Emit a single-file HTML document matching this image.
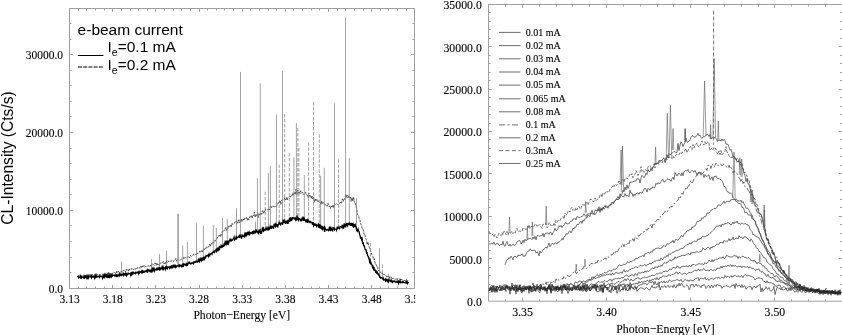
<!DOCTYPE html>
<html><head><meta charset="utf-8"><style>
html,body{margin:0;padding:0;background:#fff;width:842px;height:335px;overflow:hidden}
svg{display:block;will-change:transform}
</style></head><body>
<svg width="842" height="335" viewBox="0 0 842 335">
<rect width="842" height="335" fill="#fff"/>
<defs><clipPath id="cl"><rect x="0" y="0" width="415.2" height="335"/></clipPath></defs>
<path d="M69.5 8.5 H414.5 V288.5 H69.5 Z" fill="none" stroke="#a0a0a0" stroke-width="1"/>
<path d="M488.5 4.5 H842.5 V301.2 H488.5 Z" fill="none" stroke="#a0a0a0" stroke-width="1"/>
<path d="M69.5 288.5L69.5 285M69.5 8.5L69.5 12M78.5 288.5L78.5 286.5M78.5 8.5L78.5 10.5M86.5 288.5L86.5 286.5M86.5 8.5L86.5 10.5M95.5 288.5L95.5 286.5M95.5 8.5L95.5 10.5M104.5 288.5L104.5 286.5M104.5 8.5L104.5 10.5M112.5 288.5L112.5 285M112.5 8.5L112.5 12M121.5 288.5L121.5 286.5M121.5 8.5L121.5 10.5M130.5 288.5L130.5 286.5M130.5 8.5L130.5 10.5M138.5 288.5L138.5 286.5M138.5 8.5L138.5 10.5M147.5 288.5L147.5 286.5M147.5 8.5L147.5 10.5M155.5 288.5L155.5 285M155.5 8.5L155.5 12M164.5 288.5L164.5 286.5M164.5 8.5L164.5 10.5M173.5 288.5L173.5 286.5M173.5 8.5L173.5 10.5M181.5 288.5L181.5 286.5M181.5 8.5L181.5 10.5M190.5 288.5L190.5 286.5M190.5 8.5L190.5 10.5M199.5 288.5L199.5 285M199.5 8.5L199.5 12M207.5 288.5L207.5 286.5M207.5 8.5L207.5 10.5M216.5 288.5L216.5 286.5M216.5 8.5L216.5 10.5M224.5 288.5L224.5 286.5M224.5 8.5L224.5 10.5M233.5 288.5L233.5 286.5M233.5 8.5L233.5 10.5M242.5 288.5L242.5 285M242.5 8.5L242.5 12M250.5 288.5L250.5 286.5M250.5 8.5L250.5 10.5M259.5 288.5L259.5 286.5M259.5 8.5L259.5 10.5M268.5 288.5L268.5 286.5M268.5 8.5L268.5 10.5M276.5 288.5L276.5 286.5M276.5 8.5L276.5 10.5M285.5 288.5L285.5 285M285.5 8.5L285.5 12M293.5 288.5L293.5 286.5M293.5 8.5L293.5 10.5M302.5 288.5L302.5 286.5M302.5 8.5L302.5 10.5M311.5 288.5L311.5 286.5M311.5 8.5L311.5 10.5M319.5 288.5L319.5 286.5M319.5 8.5L319.5 10.5M328.5 288.5L328.5 285M328.5 8.5L328.5 12M337.5 288.5L337.5 286.5M337.5 8.5L337.5 10.5M345.5 288.5L345.5 286.5M345.5 8.5L345.5 10.5M354.5 288.5L354.5 286.5M354.5 8.5L354.5 10.5M363.5 288.5L363.5 286.5M363.5 8.5L363.5 10.5M371.5 288.5L371.5 285M371.5 8.5L371.5 12M380.5 288.5L380.5 286.5M380.5 8.5L380.5 10.5M388.5 288.5L388.5 286.5M388.5 8.5L388.5 10.5M397.5 288.5L397.5 286.5M397.5 8.5L397.5 10.5M406.5 288.5L406.5 286.5M406.5 8.5L406.5 10.5M414.5 288.5L414.5 285M414.5 8.5L414.5 12M69.5 288.5L73 288.5M414.5 288.5L411 288.5M69.5 272.5L71.5 272.5M414.5 272.5L412.5 272.5M69.5 257.5L71.5 257.5M414.5 257.5L412.5 257.5M69.5 241.5L71.5 241.5M414.5 241.5L412.5 241.5M69.5 225.5L71.5 225.5M414.5 225.5L412.5 225.5M69.5 210.5L73 210.5M414.5 210.5L411 210.5M69.5 194.5L71.5 194.5M414.5 194.5L412.5 194.5M69.5 179.5L71.5 179.5M414.5 179.5L412.5 179.5M69.5 163.5L71.5 163.5M414.5 163.5L412.5 163.5M69.5 148.5L71.5 148.5M414.5 148.5L412.5 148.5M69.5 132.5L73 132.5M414.5 132.5L411 132.5M69.5 116.5L71.5 116.5M414.5 116.5L412.5 116.5M69.5 101.5L71.5 101.5M414.5 101.5L412.5 101.5M69.5 85.5L71.5 85.5M414.5 85.5L412.5 85.5M69.5 70.5L71.5 70.5M414.5 70.5L412.5 70.5M69.5 54.5L73 54.5M414.5 54.5L411 54.5M69.5 39.5L71.5 39.5M414.5 39.5L412.5 39.5M69.5 23.5L71.5 23.5M414.5 23.5L412.5 23.5M505.5 301.2L505.5 299.2M505.5 4.5L505.5 6.5M522.5 301.2L522.5 297.7M522.5 4.5L522.5 8M539.5 301.2L539.5 299.2M539.5 4.5L539.5 6.5M556.5 301.2L556.5 299.2M556.5 4.5L556.5 6.5M572.5 301.2L572.5 299.2M572.5 4.5L572.5 6.5M589.5 301.2L589.5 299.2M589.5 4.5L589.5 6.5M606.5 301.2L606.5 297.7M606.5 4.5L606.5 8M623.5 301.2L623.5 299.2M623.5 4.5L623.5 6.5M640.5 301.2L640.5 299.2M640.5 4.5L640.5 6.5M657.5 301.2L657.5 299.2M657.5 4.5L657.5 6.5M673.5 301.2L673.5 299.2M673.5 4.5L673.5 6.5M690.5 301.2L690.5 297.7M690.5 4.5L690.5 8M707.5 301.2L707.5 299.2M707.5 4.5L707.5 6.5M724.5 301.2L724.5 299.2M724.5 4.5L724.5 6.5M741.5 301.2L741.5 299.2M741.5 4.5L741.5 6.5M758.5 301.2L758.5 299.2M758.5 4.5L758.5 6.5M774.5 301.2L774.5 297.7M774.5 4.5L774.5 8M791.5 301.2L791.5 299.2M791.5 4.5L791.5 6.5M808.5 301.2L808.5 299.2M808.5 4.5L808.5 6.5M825.5 301.2L825.5 299.2M825.5 4.5L825.5 6.5M842.5 301.2L842.5 299.2M842.5 4.5L842.5 6.5M488.5 292.5L490.5 292.5M842 292.5L840 292.5M488.5 284.5L490.5 284.5M842 284.5L840 284.5M488.5 275.5L490.5 275.5M842 275.5L840 275.5M488.5 267.5L490.5 267.5M842 267.5L840 267.5M488.5 258.5L492 258.5M842 258.5L838.5 258.5M488.5 250.5L490.5 250.5M842 250.5L840 250.5M488.5 241.5L490.5 241.5M842 241.5L840 241.5M488.5 233.5L490.5 233.5M842 233.5L840 233.5M488.5 224.5L490.5 224.5M842 224.5L840 224.5M488.5 216.5L492 216.5M842 216.5L838.5 216.5M488.5 207.5L490.5 207.5M842 207.5L840 207.5M488.5 199.5L490.5 199.5M842 199.5L840 199.5M488.5 190.5L490.5 190.5M842 190.5L840 190.5M488.5 182.5L490.5 182.5M842 182.5L840 182.5M488.5 173.5L492 173.5M842 173.5L838.5 173.5M488.5 165.5L490.5 165.5M842 165.5L840 165.5M488.5 156.5L490.5 156.5M842 156.5L840 156.5M488.5 148.5L490.5 148.5M842 148.5L840 148.5M488.5 139.5L490.5 139.5M842 139.5L840 139.5M488.5 131.5L492 131.5M842 131.5L838.5 131.5M488.5 123.5L490.5 123.5M842 123.5L840 123.5M488.5 114.5L490.5 114.5M842 114.5L840 114.5M488.5 106.5L490.5 106.5M842 106.5L840 106.5M488.5 97.5L490.5 97.5M842 97.5L840 97.5M488.5 89.5L492 89.5M842 89.5L838.5 89.5M488.5 80.5L490.5 80.5M842 80.5L840 80.5M488.5 72.5L490.5 72.5M842 72.5L840 72.5M488.5 63.5L490.5 63.5M842 63.5L840 63.5M488.5 55.5L490.5 55.5M842 55.5L840 55.5M488.5 46.5L492 46.5M842 46.5L838.5 46.5M488.5 38.5L490.5 38.5M842 38.5L840 38.5M488.5 29.5L490.5 29.5M842 29.5L840 29.5M488.5 21.5L490.5 21.5M842 21.5L840 21.5M488.5 12.5L490.5 12.5M842 12.5L840 12.5M488.5 4.5L492 4.5M842 4.5L838.5 4.5" stroke="#a0a0a0" stroke-width="1" fill="none"/>
<path d="M77.6 276.6 78.4 275.8 79.2 275.1 80 274.6 80.8 275.9 81.6 275.7 82.4 275.8 83.2 275.3 84 276.4 84.8 275 85.6 276.6 86.4 275.9 87.2 276.5 88 274.6 88.8 276.2 89.6 274.4 90.4 275.8 91.2 273.6 92 274.8 92.8 274.7 93.6 276 94.4 275.3 95.2 275.7 96 274.6 96.8 275 97.6 274.6 98.4 275.7 99.2 274.4 100 274.7 100.8 274.7 101.6 275.3 102.4 274.7 103.2 274.5 104 274.2 104.8 274.5 105.6 274.2 106.4 274.7 107.2 272.8 108 275.2 108.8 272 109.6 274.1 110.4 273.2 111.2 273.5 112 273.6 112.8 273.3 113.6 272.1 114.4 272.5 115.2 272.8 116 274 116.8 271 117.6 272.4 118.4 271.3 119.2 273.6 120 271.3 120.8 271.9 121.6 271.4 122.4 272.2 123.2 270.3 124 270.4 124.8 270.1 125.6 272.3 126.4 269.4 127.2 270.6 128 269.4 128.8 271.5 129.6 269.1 130.4 269.7 131.2 268.5 132 269.8 132.8 268.7 133.6 269.6 134.4 268.5 135.2 269.5 136 268.1 136.8 269.1 137.6 267.5 138.4 268.5 139.2 267.7 140 268.3 140.8 266 141.6 268 142.4 266 143.2 267.2 144 265.3 144.8 267.4 145.6 266.4 146.4 266.5 147.2 265.9 148 266.2 148.8 265.7 149.6 266.5 150.4 265.2 151.2 266.8 152 263.6 152.8 265 153.6 264.7 154.4 265.3 155.2 262.9 156 265.4 156.8 262.8 157.6 265 158.4 263.8 159.2 265.3 160 262.8 160.8 263.4 161.6 262.8 162.4 262.7 163.2 261.5 164 264.1 164.8 262.5 165.6 263.9 166.4 260.9 167.2 262.6 168 260.7 168.8 261.9 169.6 261.1 170.4 261.3 171.2 260.8 172 261.3 172.8 260.5 173.6 261.5 174.4 259.8 175.2 259.8 176 258.3 176.8 261.3 177.6 259.2 178.4 260.1 179.2 259.9 180 260.5 180.8 259.5 181.6 259 182.4 259.1 183.2 258.9 184 256.8 184.8 258.3 185.6 257.2 186.4 258 187.2 257.4 188 257 188.8 256.3 189.6 258 190.4 255.3 191.2 256.4 192 256 192.8 255.8 193.6 253.9 194.4 254.8 195.2 254.8 196 253.9 196.8 252.6 197.6 253.9 198.4 252.8 199.2 252.3 200 250.9 200.8 252.4 201.6 250.7 202.4 252.1 203.2 249.4 204 250.1 204.8 248.4 205.6 249.1 206.4 246.8 207.2 247.5 208 246.9 208.8 246.8 209.6 244.3 210.4 246.6 211.2 243.2 212 244 212.8 242.2 213.6 243.2 214.4 240.3 215.2 241 216 239.8 216.8 239.1 217.6 236.9 218.4 236.6 219.2 235.1 220 236.9 220.8 233.9 221.6 235.4 222.4 231 223.2 231.6 224 230.3 224.8 230.2 225.6 227.6 226.4 230.5 227.2 227.5 228 229 228.8 225.8 229.6 226.8 230.4 225.5 231.2 227.2 232 223.1 232.8 224.5 233.6 223.6 234.4 223.3 235.2 221.4 236 222.5 236.8 220.7 237.6 223.2 238.4 219.8 239.2 222.9 240 219.8 240.8 222.1 241.6 218.9 242.4 221.2 243.2 218.9 244 220.5 244.8 218 245.6 218.6 246.4 217.4 247.2 220.3 248 218 248.8 220.1 249.6 216.7 250.4 217.7 251.2 215.7 252 218 252.8 215 253.6 215.8 254.4 212.2 255.2 217.3 256 214.8 256.8 216.1 257.6 212.5 258.4 217.5 259.2 213.6 260 215 260.8 212.8 261.6 214.4 262.4 210.6 263.2 213.3 264 210.7 264.8 212.4 265.6 208.8 266.4 209.4 267.2 209.7 268 210 268.8 208.7 269.6 210.1 270.4 206.4 271.2 208.1 272 206.4 272.8 207.5 273.6 206.2 274.4 206.7 275.2 205.8 276 206.7 276.8 205.6 277.6 204.8 278.4 202 279.2 202.9 280 200.4 280.8 204.5 281.6 200.4 282.4 200.5 283.2 199.9 284 199.8 284.8 197.6 285.6 199.8 286.4 197.5 287.2 200.3 288 197.4 288.8 197 289.6 196.7 290.4 197 291.2 195.6 292 195.8 292.8 192.8 293.6 195.1 294.4 192.7 295.2 194.4 296 189.2 296.8 194.7 297.6 190.2 298.4 193.4 299.2 191.5 300 193.6 300.8 190.7 301.6 193.2 302.4 192.2 303.2 194.4 304 194.2 304.8 194.3 305.6 192.2 306.4 194.8 307.2 195.2 308 197.6 308.8 193 309.6 196.3 310.4 195.1 311.2 198.7 312 196.1 312.8 199.1 313.6 197 314.4 202.4 315.2 198.5 316 200.7 316.8 199 317.6 202.1 318.4 201 319.2 201.4 320 201.4 320.8 204.8 321.6 200.8 322.4 203.9 323.2 202.4 324 204 324.8 203.8 325.6 205.1 326.4 204.7 327.2 206.3 328 203.4 328.8 206.5 329.6 206 330.4 208.4 331.2 205.7 332 207.1 332.8 205 333.6 207.9 334.4 203.5 335.2 204.5 336 203.5 336.8 203.9 337.6 204.5 338.4 204.6 339.2 203.5 340 203 340.8 202 341.6 203.3 342.4 198.8 343.2 201.2 344 198.6 344.8 199.3 345.6 194.1 346.4 197.7 347.2 195.3 348 197.8 348.8 195.5 349.6 198.6 350.4 197.2 351.2 201.4 352 197.4 352.8 201.2 353.6 197.1 354.4 202.6 355.2 202.5 356 206.5 356.8 209.2 357.6 214.6 358.4 215.2 359.2 218.8 360 220.4 360.8 224 361.6 225.4 362.4 229.3 363.2 229.4 364 234.5 364.8 234.2 365.6 238.1 366.4 239.6 367.2 244.7 368 242 368.8 245.8 369.6 248.4 370.4 250.4 371.2 252.7 372 254.9 372.8 256.1 373.6 259.5 374.4 258.8 375.2 263.9 376 264.2 376.8 266.6 377.6 266.7 378.4 270.9 379.2 270 380 271.7 380.8 272.2 381.6 274.1 382.4 273.3 383.2 275.3 384 274 384.8 274.9 385.6 274.6 386.4 276.6 387.2 275.7 388 277.2 388.8 275.7 389.6 278.6 390.4 277 391.2 277.5 392 277.1 392.8 278.9 393.6 278.3 394.4 279.1 395.2 278.7 396 279.6 396.8 278.1 397.6 279.6 398.4 278.9 399.2 279.3 400 278.7 400.8 280.2 401.6 279 402.4 280.4 403.2 280.5 404 280.4 404.8 280.5 405.6 280.7 406.4 279.4 407.2 281 408 280.4 408.8 280.7" fill="none" stroke="#2a2a2a" stroke-width="0.8" stroke-dasharray="2.5 1"/>
<path d="M121.5 261.4V274.7M151.4 259V270.3M159.5 254.2V268.7M166.5 250.7V267.4M182.7 245.4V265.1M187.4 242V264.1M196.5 223.3V261.5M203.4 225.7V258.4M213.3 225V252.4M216.3 228V250.4M222.5 217.9V245.9M227.3 219.1V242.6M236.5 208.4V237.8M240.5 71.9V236.5M255.5 221.5V232.1M257.4 178.2V231.9M260.3 83.3V231.4M268.4 173V228.4M270.4 165.7V227.7M276.5 114.5V225.2M282.5 70.8V222.6M293.9 157.3V218.6M296.4 123V218.4M304.3 175V220M320.6 175.8V227.1M324.3 167.8V228.4M334.5 103.4V229.5M345.6 17.5V224.6M349.3 157.9V224M356.5 198.2V228.4M379.5 248.3V276.2M388.4 273.8V280.5" stroke="#848484" stroke-width="0.75" fill="none"/>
<path d="M265.2 191.8V229.8M279.2 164.6V224.1M284.7 113.9V221.7M289.3 153V220M297.8 128V218.5M298.9 148V218.7M308.6 142.3V221.5M313.5 102V223.7M319.3 134.3V226.5M338.5 159.4V228M370.5 242.9V262.1M382.4 264.4V278.6" stroke="#848484" stroke-width="0.75" stroke-dasharray="3.5 1.5" fill="none"/>
<path d="M178.1 213.7V265.9" stroke="#a0a0a0" stroke-width="1.6" fill="none"/>
<path d="M77.6 277.2 78.1 276.4 78.6 278 79.1 277.4 79.6 277.4 80.1 276.2 80.6 278.7 81.1 276.9 81.6 277.9 82.1 276.8 82.6 277 83.1 277.4 83.6 278 84.1 276.3 84.6 277.7 85.1 276.4 85.6 277.2 86.1 276.1 86.6 277.8 87.1 276.3 87.6 277.9 88.1 276.3 88.6 277.9 89.1 276.3 89.6 276.9 90.1 276.9 90.6 276.7 91.1 276 91.6 277.7 92.1 276.3 92.6 276.9 93.1 276.3 93.6 276.9 94.1 276.7 94.6 278.1 95.1 275.5 95.6 276.9 96.1 275.1 96.6 276.9 97.1 276.4 97.6 276.9 98.1 276.7 98.6 276.6 99.1 276.1 99.6 277.3 100.1 276 100.6 276.5 101.1 276.4 101.6 276.4 102.1 276.7 102.6 278.1 103.1 275.9 103.6 276.8 104.1 275.1 104.6 276.7 105.1 274.6 105.6 276.1 106.1 275.2 106.6 277.5 107.1 275.6 107.6 276.8 108.1 274.8 108.6 277.9 109.1 275.3 109.6 276.7 110.1 275.3 110.6 277.7 111.1 275.5 111.6 276.6 112.1 274.7 112.6 275.8 113.1 275.3 113.6 275.4 114.1 275 114.6 275.9 115.1 275.5 115.6 276 116.1 274 116.6 277.2 117.1 274.6 117.6 276.9 118.1 275.1 118.6 275.4 119.1 274.4 119.6 275.6 120.1 273.9 120.6 275 121.1 274.4 121.6 275.5 122.1 274.7 122.6 274.9 123.1 273.4 123.6 275.2 124.1 274 124.6 274.6 125.1 273.7 125.6 275.5 126.1 272.9 126.6 275.3 127.1 274.2 127.6 274.5 128.1 273.2 128.6 273.9 129.1 273.5 129.6 273.6 130.1 273.7 130.6 275 131.1 272 131.6 274.2 132.1 272.9 132.6 273.9 133.1 272.3 133.6 273.5 134.1 273 134.6 273.3 135.1 272.7 135.6 273.5 136.1 272.3 136.6 272.9 137.1 272.8 137.6 272.2 138.1 272.1 138.6 273.6 139.1 271.7 139.6 272.8 140.1 272 140.6 272 141.1 271.5 141.6 272.5 142.1 270 142.6 272.3 143.1 271.3 143.6 272.3 144.1 271.9 144.6 272 145.1 270.9 145.6 271.5 146.1 270.9 146.6 271.5 147.1 270.1 147.6 272.5 148.1 270 148.6 269.8 149.1 270 149.6 271.1 150.1 270.5 150.6 272.3 151.1 269.5 151.6 271.1 152.1 268.9 152.6 270.6 153.1 268.6 153.6 270.1 154.1 268.8 154.6 270.9 155.1 269.8 155.6 269.4 156.1 269 156.6 269.6 157.1 268.2 157.6 269.6 158.1 269.2 158.6 269.4 159.1 267 159.6 270.6 160.1 267.5 160.6 269 161.1 268.2 161.6 268.6 162.1 266.9 162.6 268.7 163.1 267.1 163.6 269.1 164.1 268.1 164.6 268.5 165.1 267.6 165.6 269.2 166.1 267 166.6 268.7 167.1 266.4 167.6 268.4 168.1 267.3 168.6 266.8 169.1 266.8 169.6 268.2 170.1 266.9 170.6 267.7 171.1 266.5 171.6 267.4 172.1 265.3 172.6 268.3 173.1 264.9 173.6 267.4 174.1 265.7 174.6 266.8 175.1 265.6 175.6 267.1 176.1 266 176.6 266.8 177.1 265.9 177.6 265.8 178.1 265.7 178.6 266.3 179.1 264.5 179.6 267 180.1 265.2 180.6 265.6 181.1 265.6 181.6 266.5 182.1 265.1 182.6 266 183.1 264.4 183.6 265.7 184.1 264 184.6 264.8 185.1 264.7 185.6 265.1 186.1 263.9 186.6 265.3 187.1 264.1 187.6 265 188.1 263.5 188.6 262.9 189.1 262.1 189.6 263.3 190.1 263.8 190.6 264 191.1 262.8 191.6 263.6 192.1 263.2 192.6 263 193.1 262.4 193.6 263.5 194.1 261.9 194.6 261.9 195.1 262.5 195.6 262.3 196.1 261.1 196.6 261.8 197.1 262.1 197.6 262 198.1 260.2 198.6 262.1 199.1 259.9 199.6 261.3 200.1 259.3 200.6 261.1 201.1 258.9 201.6 260.4 202.1 258.8 202.6 259.8 203.1 258.1 203.6 259.1 204.1 256.8 204.6 258.8 205.1 257.2 205.6 257.6 206.1 255.6 206.6 256 207.1 255.7 207.6 255.9 208.1 255 208.6 256.3 209.1 254.4 209.6 256.3 210.1 254.3 210.6 253.9 211.1 253.8 211.6 253.3 212.1 254.1 212.6 252.3 213.1 251.8 213.6 252.2 214.1 251.3 214.6 252.2 215.1 251.1 215.6 250.4 216.1 249.6 216.6 251.2 217.1 249.4 217.6 250.1 218.1 247.4 218.6 249.4 219.1 247.6 219.6 248.8 220.1 245.8 220.6 247.9 221.1 245.7 221.6 247.1 222.1 246.1 222.6 246.8 223.1 244.9 223.6 246.9 224.1 244.3 224.6 244.9 225.1 242.3 225.6 243.7 226.1 242 226.6 243.8 227.1 242 227.6 243.5 228.1 241.8 228.6 243.3 229.1 241.1 229.6 240.8 230.1 239.4 230.6 240.6 231.1 239.7 231.6 240.8 232.1 240.2 232.6 240.2 233.1 238.7 233.6 238.5 234.1 237.2 234.6 239.9 235.1 239 235.6 238.8 236.1 237.1 236.6 238.7 237.1 237.7 237.6 237.7 238.1 236.8 238.6 237 239.1 235.9 239.6 237.8 240.1 234.6 240.6 236.3 241.1 236.9 241.6 238.8 242.1 234.4 242.6 236.2 243.1 236.4 243.6 236.5 244.1 235.3 244.6 237.5 245.1 232.4 245.6 235.1 246.1 233.9 246.6 235.1 247.1 232.1 247.6 235.1 248.1 232.7 248.6 233.9 249.1 232.5 249.6 235.5 250.1 232.6 250.6 232.9 251.1 233.2 251.6 232.9 252.1 232.2 252.6 233.2 253.1 231 253.6 234.1 254.1 231.1 254.6 231.5 255.1 232.8 255.6 231.9 256.1 229.5 256.6 231.8 257.1 231.4 257.6 232.3 258.1 231.7 258.6 234.3 259.1 229.5 259.6 231.3 260.1 230.4 260.6 233.7 261.1 232.2 261.6 232.7 262.1 229.6 262.6 230.9 263.1 226.8 263.6 231.1 264.1 230.6 264.6 229.5 265.1 229.1 265.6 230.6 266.1 227.7 266.6 229.1 267.1 229.7 267.6 229.6 268.1 226.7 268.6 230.3 269.1 228.1 269.6 228.7 270.1 226.6 270.6 227.7 271.1 226.8 271.6 228.8 272.1 226.7 272.6 226.3 273.1 226.9 273.6 228.7 274.1 223.8 274.6 226.5 275.1 224.5 275.6 226.3 276.1 224.3 276.6 225.4 277.1 224 277.6 227.5 278.1 225 278.6 224.3 279.1 222.5 279.6 224 280.1 223.9 280.6 224.7 281.1 222.8 281.6 223.1 282.1 223 282.6 224.7 283.1 220.8 283.6 221.8 284.1 220.4 284.6 223.2 285.1 220.7 285.6 223.9 286.1 221.3 286.6 223 287.1 220.5 287.6 223.8 288.1 219.8 288.6 221.8 289.1 220.1 289.6 222 290.1 217.2 290.6 221.3 291.1 218.5 291.6 220.9 292.1 217.2 292.6 219.7 293.1 217.8 293.6 217.8 294.1 218.2 294.6 218.8 295.1 218 295.6 219.6 296.1 217.6 296.6 220.6 297.1 215.6 297.6 219.8 298.1 217.2 298.6 219.9 299.1 218.5 299.6 218.7 300.1 219.2 300.6 220.6 301.1 219.8 301.6 220.4 302.1 217.5 302.6 220.5 303.1 216.5 303.6 221 304.1 217.3 304.6 220.2 305.1 220.2 305.6 221.2 306.1 219.3 306.6 222.2 307.1 220.6 307.6 222.8 308.1 220.6 308.6 221.8 309.1 221.4 309.6 222.2 310.1 221.3 310.6 221.9 311.1 222.7 311.6 222.5 312.1 222.5 312.6 224.9 313.1 222 313.6 225.6 314.1 224.5 314.6 224.9 315.1 223.3 315.6 225.8 316.1 223.8 316.6 226.5 317.1 225.9 317.6 225.7 318.1 224.5 318.6 227.6 319.1 225.2 319.6 226.7 320.1 224.3 320.6 227.6 321.1 226.8 321.6 228.2 322.1 225.8 322.6 228.9 323.1 227.6 323.6 228.6 324.1 227.6 324.6 231.9 325.1 228.1 325.6 229.3 326.1 229.5 326.6 230.1 327.1 229.5 327.6 229.9 328.1 229.7 328.6 230.5 329.1 228.6 329.6 230.5 330.1 226.7 330.6 229.6 331.1 228.4 331.6 230.5 332.1 228.4 332.6 231.3 333.1 227.1 333.6 229.3 334.1 227.5 334.6 229.9 335.1 229.2 335.6 229.1 336.1 229.1 336.6 230.3 337.1 227.7 337.6 228.3 338.1 227.1 338.6 228.2 339.1 228 339.6 228.6 340.1 226.4 340.6 226.7 341.1 226.6 341.6 227.3 342.1 225.8 342.6 227.3 343.1 225.2 343.6 228.7 344.1 223.5 344.6 225.4 345.1 224 345.6 227.5 346.1 224.3 346.6 224.8 347.1 222.9 347.6 225.5 348.1 224 348.6 224.3 349.1 223.2 349.6 225.4 350.1 223 350.6 225.9 351.1 222.9 351.6 226 352.1 223 352.6 225.3 353.1 224.2 353.6 227.7 354.1 224.1 354.6 225.6 355.1 224.6 355.6 226.9 356.1 226.9 356.6 230.3 357.1 229.7 357.6 230.9 358.1 229.2 358.6 231.2 359.1 231.6 359.6 234.4 360.1 235.6 360.6 238.7 361.1 236.9 361.6 239.6 362.1 238.7 362.6 243.9 363.1 242 363.6 245.6 364.1 245.6 364.6 247.4 365.1 249.1 365.6 249.8 366.1 249.9 366.6 253.1 367.1 252.8 367.6 255.7 368.1 256.1 368.6 258.1 369.1 258.1 369.6 261.8 370.1 260.7 370.6 264.4 371.1 263.1 371.6 264.5 372.1 265.1 372.6 267.4 373.1 266.7 373.6 269.2 374.1 268.2 374.6 270 375.1 270 375.6 271.8 376.1 271.2 376.6 273.5 377.1 271.4 377.6 273.8 378.1 273.6 378.6 275 379.1 274.8 379.6 277 380.1 276.6 380.6 278.1 381.1 277.6 381.6 277.9 382.1 277.8 382.6 278.7 383.1 278 383.6 280 384.1 279.9 384.6 279.8 385.1 279.2 385.6 280.8 386.1 279.5 386.6 281.3 387.1 279.2 387.6 281.2 388.1 280.3 388.6 281.8 389.1 279.9 389.6 280.7 390.1 280.7 390.6 281.4 391.1 279.8 391.6 281.6 392.1 281.2 392.6 282.2 393.1 281.2 393.6 281.5 394.1 280.8 394.6 281.6 395.1 281.3 395.6 282.2 396.1 282 396.6 282.2 397.1 281.2 397.6 282.2 398.1 281.5 398.6 283.3 399.1 281.3 399.6 281.9 400.1 280.7 400.6 282.8 401.1 282.5 401.6 282.5 402.1 281.8 402.6 282.4 403.1 281.7 403.6 282.5 404.1 282.6 404.6 282.6 405.1 282.9 405.6 282.7 406.1 281.6 406.6 282.8 407.1 282 407.6 283.5 408.1 282.5 408.6 283.1" fill="none" stroke="#000" stroke-width="1.3"/>
<path d="M575 290.6 576 289.4 577 286.9 578 287.6 579 289.7 580 289.2 581 287.2 582 289.2 583 284.1 584 288.7 585 290.5 586 290.4 587 287.7 588 289.1 589 289 590 288.3 591 286.9 592 285.6 593 287.3 594 286 595 284.2 596 290.8 597 285.4 598 286.9 599 286.9 600 284.7 601 288.8 602 284.7 603 291.6 604 285.2 605 286.4 606 287.7 607 287.7 608 288 609 290.2 610 290.8 611 292.9 612 286.1 613 290.7 614 290 615 288 616 286 617 293.5 618 291.1 619 285.1 620 291.7 621 289.6 622 289.2 623 290.3 624 287.5 625 288.4 626 290.6 627 286.3 628 285.9 629 285.2 630 290.2 631 286.5 632 287.9 633 287.6 634 289.8 635 289.3 636 286.9 637 291.4 638 289.4 639 289.3 640 287.7 641 287.9 642 288 643 288.5 644 289.2 645 289.1 646 287.6 647 287.8 648 289.2 649 290 650 290 651 287.6 652 285.3 653 287.8 654 287.7 655 287.5 656 288.2 657 286.3 658 287.3 659 283.1 660 289.9 661 286.9 662 286.2 663 287.5 664 286.2 665 285.4 666 287.7 667 286.4 668 285.2 669 287.3 670 286.8 671 286.7 672 285.6 673 287.6 674 284.6 675 287.1 676 288.1 677 284.5 678 286.2 679 283.3 680 285.9 681 283.4 682 283.9 683 286.1 684 287.4 685 286.6 686 285.6 687 284.8 688 286.1 689 289.7 690 288.3 691 284.2 692 285.2 693 284.1 694 287.2 695 285.9 696 284 697 286.2 698 285.7 699 284.8 700 285.9 701 287.8 702 285 703 285.9 704 284.3 705 285.8 706 288.5 707 287.2 708 285.3 709 285.4 710 288.1 711 286 712 285.4 713 287.8 714 285.5 715 285 716 286.6 717 284.2 718 285.4 719 284.9 720 286.1 721 285.7 722 288.3 723 286.7 724 285.8 725 286.5 726 285.5 727 286.1 728 286.5 729 286.3 730 287.5 731 286.4 732 284.8 733 286.1 734 284.3 735 288.5 736 283.4 737 285.7 738 286.6 739 284.8 740 285.5 741 287.5 742 284.5 743 287.5 744 286 745 285.9 746 289.3 747 287.6 748 287.2 749 286.3 750 287.1 751 286.6 752 289.8 753 287.4 754 286.1 755 286.6 756 288.1 757 285.8 758 286.5 759 285.2 760 284.1 761 291.9 762 287.8 763 291.4 764 289.4 765 289.1 766 286.7 767 288.7 768 289.2 769 287.4 770 290.3 771 291.4 772 290.1 773 289.7 774 286.3 775 294.6 776 290.9 777 287.5 778 287.6 779 288.6 780 288 781 290 782 288.4 783 290.3 784 289.3 785 289.7 786 288.1 787 290.7 788 291 789 289 790 287.4 791 290.6 792 288.7 793 289.8 794 291.3 795 292.2 796 290.6 797 291.3 798 292.4 799 289.9 800 290.6 801 291.4 802 292.6 803 289.9 804 289.9 805 292.4 806 292.7 807 290.7 808 291.5 809 292.5 810 291.3 811 289.5 812 291.8 813 292.7 814 290.3 815 293.2 816 291.4 817 289.8 818 292.1 819 290.2 820 293.5 821 292.5 822 294 823 290.2 824 292.2 825 293.7 826 293.5 827 292.9 828 292.7 829 293 830 293.4 831 294.3 832 290.4 833 291.3 834 291.8 835 292.7 836 292.9 837 292.1 838 292.4 839 293.4 840 293.9 841 291.7" fill="none" stroke="#262626" stroke-width="0.65" />
<path d="M545 288.1 546 288.7 547 293.7 548 287.3 549 289.2 550 288.7 551 287.7 552 290.5 553 288.4 554 287.6 555 288.7 556 289.1 557 287.3 558 287.1 559 290.8 560 287.4 561 290.4 562 288.2 563 286.8 564 286.2 565 285.1 566 289.9 567 289.8 568 287.6 569 286.3 570 287.3 571 288.7 572 291 573 287.1 574 285 575 288.8 576 287.6 577 286.7 578 284.6 579 289.5 580 291.2 581 286.3 582 285.3 583 287.2 584 287.7 585 289.3 586 288.5 587 284.8 588 288.8 589 288.8 590 287.2 591 288.8 592 285.5 593 287.5 594 285.5 595 288.2 596 289.7 597 284.2 598 288.3 599 289.7 600 288.7 601 291.5 602 288.1 603 292.6 604 288.4 605 285.8 606 288 607 286.9 608 290.7 609 291.6 610 291.7 611 289.9 612 288 613 287.1 614 286 615 289.7 616 285.8 617 287.8 618 288.8 619 289.2 620 285.5 621 285.8 622 285.9 623 289.9 624 285.9 625 286.2 626 289.1 627 289.6 628 291.2 629 287.5 630 289 631 284 632 288.1 633 288.3 634 288.2 635 285.6 636 288.4 637 288.4 638 285.8 639 285.6 640 284.9 641 284.7 642 284.9 643 283.1 644 282.9 645 284 646 283.5 647 285 648 283.5 649 282.6 650 281.7 651 283 652 282.2 653 281.5 654 284.7 655 281.2 656 284.1 657 285.1 658 282.6 659 282 660 282.8 661 281.4 662 282.2 663 282.6 664 280.8 665 283 666 281.7 667 281.7 668 282.5 669 280.2 670 280.2 671 281.4 672 281.3 673 280.7 674 280.8 675 280.6 676 279.9 677 279.6 678 279.9 679 280.6 680 280.8 681 279.3 682 281.7 683 282.1 684 280.4 685 279.5 686 280 687 280.7 688 279.9 689 281.5 690 279.7 691 280.6 692 280 693 281.3 694 279.6 695 279.4 696 278.1 697 278.4 698 277.4 699 280.9 700 278.4 701 278.2 702 278.4 703 278.8 704 279 705 277.2 706 279.8 707 278.9 708 278.9 709 280.5 710 279.2 711 278.4 712 278.2 713 279.5 714 278.8 715 278.7 716 277.4 717 278.4 718 277.5 719 277.2 720 278.7 721 277.6 722 277 723 277.8 724 278.3 725 275.4 726 277.3 727 276.6 728 276.2 729 277.4 730 276.9 731 275.8 732 277.2 733 276.1 734 276.2 735 275.1 736 276.2 737 276.7 738 275.9 739 276.2 740 277.2 741 276.1 742 275.7 743 277.6 744 275.6 745 274.3 746 275.2 747 276.1 748 275.4 749 275.5 750 276.1 751 276.5 752 276.6 753 277 754 278.1 755 280.1 756 278.6 757 278.4 758 277.5 759 278.4 760 277.7 761 278.8 762 278.3 763 280.5 764 281.8 765 281.3 766 283.2 767 280.7 768 282.8 769 282.4 770 283.1 771 282.4 772 283.6 773 283.9 774 283.8 775 285.8 776 285.8 777 286.7 778 285.2 779 285.3 780 285 781 287.7 782 288.2 783 287.1 784 286.4 785 287.7 786 288.4 787 288.6 788 287.6 789 289.8 790 290.2 791 287.6 792 288.9 793 288.8 794 287.6 795 288.4 796 289.4 797 290.5 798 288.7 799 289.1 800 289.4 801 289.4 802 288.4 803 290.9 804 289.9 805 290.7 806 291.1 807 290 808 289.6 809 290 810 290.3 811 290 812 290.7 813 289.6 814 290.7 815 290.7 816 291.7 817 292 818 293.5 819 293 820 292.5 821 291.8 822 292 823 292.4 824 291.8 825 292.2 826 291.2 827 292.7 828 291.3 829 291.8 830 291.8 831 295.3 832 292.6 833 293.6 834 291.2 835 293.2 836 292.3 837 293.7 838 292.2 839 291.4 840 293.5 841 292.7" fill="none" stroke="#262626" stroke-width="0.65" />
<path d="M515 286.1 516 288.5 517 286.8 518 290.1 519 288.9 520 289.5 521 286.8 522 291.4 523 287.6 524 289.3 525 288.3 526 288.9 527 286.3 528 288.9 529 289.5 530 286.2 531 290.8 532 286.7 533 287.6 534 287.5 535 291.1 536 287.7 537 287.9 538 289.4 539 289 540 291 541 287.9 542 287.5 543 287.1 544 287.1 545 290.1 546 289.7 547 288 548 288.4 549 284.3 550 290.3 551 289.6 552 284.4 553 287.6 554 288.5 555 291.5 556 289.2 557 291.2 558 291.8 559 290.1 560 286.8 561 286 562 288.1 563 290.2 564 289.5 565 286.1 566 290.1 567 286.9 568 287.9 569 290.7 570 288.9 571 287.6 572 287.1 573 288.8 574 289.2 575 288.3 576 287.1 577 289.6 578 290.3 579 286.4 580 289.9 581 287.4 582 288.1 583 290.5 584 286.2 585 288.4 586 292 587 291.5 588 287.5 589 286.5 590 291.1 591 289.1 592 289.2 593 285.6 594 288.8 595 285.6 596 288.1 597 292.2 598 291.1 599 291.7 600 288.7 601 289.3 602 287.8 603 292.5 604 287.4 605 285.6 606 287.4 607 290.2 608 287 609 288.3 610 285.1 611 286.4 612 285.1 613 285.3 614 286.6 615 287.9 616 289.8 617 287.4 618 284.6 619 284.4 620 283.7 621 285.5 622 284.1 623 285 624 283.6 625 286.9 626 284.4 627 285.5 628 284 629 286.8 630 282.5 631 284.5 632 285.2 633 283.6 634 284.4 635 283.2 636 284.1 637 282.9 638 284.2 639 281.3 640 283.1 641 281.8 642 281.7 643 282.3 644 281.2 645 281 646 281.8 647 280.2 648 280.7 649 281.6 650 279.8 651 281.3 652 279.2 653 280 654 279.6 655 278.2 656 279.7 657 277.6 658 279.6 659 279.4 660 277.4 661 277.6 662 277.1 663 275.8 664 276 665 276.3 666 276.1 667 276.8 668 275.1 669 274.8 670 275.5 671 275.4 672 274.3 673 274.5 674 273.6 675 273.7 676 272 677 272.1 678 274.1 679 272.7 680 272.3 681 273.5 682 274.7 683 273.8 684 273.3 685 272.9 686 274.3 687 274.2 688 273 689 272.4 690 272.7 691 272.9 692 272.1 693 271.5 694 271.1 695 270.1 696 270.7 697 270.8 698 269.2 699 269.4 700 270.9 701 269.4 702 270.4 703 269.2 704 268.5 705 270.3 706 270.5 707 270.2 708 270 709 271.2 710 269.8 711 269.3 712 270.1 713 270.6 714 269.8 715 270.2 716 270.3 717 268.2 718 268.4 719 268 720 268.4 721 266.3 722 268.1 723 265.9 724 267 725 266.2 726 265.9 727 266.5 728 264.9 729 266.3 730 265.5 731 264.7 732 266.6 733 264.9 734 266.4 735 265.6 736 265.7 737 267.1 738 266.4 739 266 740 267 741 266 742 267.7 743 266.1 744 267.1 745 266.3 746 267.5 747 266.4 748 267.2 749 268.1 750 266.7 751 267.9 752 268.7 753 268.3 754 268.8 755 269.9 756 270.5 757 268.9 758 269.8 759 268.9 760 271.3 761 272.3 762 271.5 763 271.8 764 273.7 765 273.5 766 276.1 767 276.3 768 274.2 769 276.8 770 277.3 771 277.9 772 277.9 773 277.2 774 279 775 279 776 281.4 777 280.9 778 282 779 280.6 780 281.9 781 282.2 782 282.1 783 283 784 282.6 785 284.4 786 284 787 285.3 788 286 789 285.7 790 285.5 791 287.3 792 287.5 793 286.6 794 288.2 795 285 796 287.7 797 288.2 798 288 799 286.6 800 288.3 801 289.4 802 289 803 287.6 804 289.1 805 290.9 806 290.6 807 291.1 808 289.7 809 290.6 810 290 811 290.1 812 289.2 813 290.5 814 291.7 815 290.9 816 288.9 817 291.6 818 289.9 819 291.8 820 290.5 821 293.1 822 291.3 823 292.8 824 290.2 825 291.6 826 292 827 290.4 828 291.4 829 291.5 830 292.3 831 292.3 832 290.4 833 293.6 834 293.1 835 291.7 836 293.5 837 292.2 838 291.9 839 291 840 289.6 841 292.9" fill="none" stroke="#262626" stroke-width="0.65" />
<path d="M489 290.7 490 289.7 491 289.7 492 292.4 493 285.6 494 289.9 495 292.5 496 288.3 497 292.4 498 288 499 287.5 500 284.8 501 289.8 502 290.3 503 289.8 504 289.1 505 290.2 506 288.3 507 285.3 508 289.3 509 289.8 510 294.2 511 287.8 512 289 513 285.2 514 285.1 515 286.4 516 291.6 517 288.9 518 288.8 519 287.6 520 289.1 521 290.4 522 289.8 523 288.5 524 289 525 289.4 526 290 527 289.4 528 288.1 529 285.8 530 288.9 531 288.6 532 288.4 533 287.7 534 286.3 535 290.7 536 287.2 537 288.4 538 287.6 539 285.9 540 289.9 541 285.4 542 288.4 543 287.6 544 288.5 545 286.4 546 290.5 547 291 548 289.8 549 287.5 550 285.8 551 292.5 552 284.5 553 286 554 289.1 555 289.4 556 286.1 557 289.3 558 285.6 559 289.8 560 289.2 561 288.4 562 290.6 563 289.1 564 283.8 565 290 566 289 567 290.4 568 288 569 290 570 287.8 571 289.4 572 290.3 573 287.4 574 287.2 575 288.6 576 290.1 577 289.2 578 288.8 579 289.9 580 289.2 581 286.5 582 291.1 583 291 584 290.6 585 285.1 586 290.9 587 286.3 588 288.3 589 287.7 590 290.9 591 289.5 592 287.5 593 288 594 286 595 285 596 287.5 597 287.4 598 286 599 288 600 288.1 601 284.8 602 285.6 603 285.7 604 282.5 605 286.1 606 285.7 607 284.8 608 284.2 609 283.6 610 285.3 611 283.1 612 283.9 613 283.3 614 284.3 615 284.3 616 282.9 617 282.6 618 281.5 619 281.4 620 282.4 621 282.2 622 281.7 623 280.6 624 280.6 625 278.8 626 280.8 627 278.7 628 279 629 279.6 630 280.9 631 279 632 280.3 633 281.1 634 280 635 279.7 636 278.1 637 278.6 638 277.3 639 278.9 640 278.7 641 279.2 642 277.9 643 277.9 644 276.8 645 277.6 646 278 647 277.2 648 277.2 649 276.4 650 276.5 651 276 652 275 653 275.3 654 275.7 655 275 656 274.3 657 273.4 658 274.2 659 273 660 272.9 661 273.2 662 273.2 663 271.5 664 271.3 665 271.8 666 270.6 667 271.9 668 270.9 669 269.9 670 268.6 671 269.8 672 269 673 267.3 674 267.5 675 267.8 676 268.2 677 265.8 678 267 679 267 680 268.5 681 266.8 682 266.6 683 266.3 684 266.4 685 266.5 686 265.8 687 266.2 688 267.2 689 265.4 690 265.9 691 266.8 692 264.5 693 264.9 694 264.3 695 265.3 696 265.3 697 264.6 698 264 699 263.8 700 263.8 701 264.4 702 263.6 703 264.3 704 264.5 705 262.5 706 263.8 707 263.3 708 262 709 260 710 260.8 711 261.9 712 259.6 713 261.8 714 259.8 715 260.3 716 259.2 717 259.1 718 259.2 719 257.8 720 258.2 721 257.6 722 258.3 723 256.6 724 258.8 725 258.3 726 255.8 727 255.6 728 256 729 256.7 730 256.8 731 256.9 732 257.1 733 256.4 734 255.5 735 255.7 736 256.2 737 256 738 258.6 739 256.4 740 257.8 741 257.6 742 256.4 743 256.1 744 257 745 257.6 746 257.3 747 258.6 748 257.5 749 257.8 750 258.9 751 260.6 752 260.1 753 261.4 754 260 755 261.8 756 261.8 757 263.9 758 262.2 759 263.3 760 263 761 263.3 762 265.5 763 266.1 764 265.7 765 268.1 766 268.1 767 269 768 271.4 769 271.4 770 272.4 771 273.6 772 273.4 773 273.8 774 276 775 277 776 275.3 777 276.6 778 277.4 779 278.1 780 280.5 781 279.9 782 280.7 783 281.8 784 282.7 785 282.9 786 283.8 787 283 788 284.8 789 284.6 790 285.7 791 287.2 792 286.9 793 287 794 288.6 795 289.4 796 288.7 797 287.8 798 290.2 799 289.1 800 288.3 801 289.8 802 288.8 803 289 804 288.5 805 288.8 806 290.6 807 287.5 808 290.8 809 291.1 810 291.1 811 290.5 812 289.4 813 290.7 814 291.5 815 292.4 816 291.2 817 289.1 818 290.5 819 290.2 820 292.1 821 291.9 822 291.7 823 291.4 824 289.8 825 291.5 826 293 827 290.8 828 291 829 290.5 830 291.6 831 292.5 832 290.2 833 292.6 834 291.2 835 294.7 836 292 837 292.8 838 290.5 839 293.5 840 292.5 841 292" fill="none" stroke="#262626" stroke-width="0.65" />
<path d="M489 291.3 490 288.1 491 287.6 492 291.3 493 287.5 494 289.7 495 287.2 496 286.3 497 291.5 498 289.2 499 290.5 500 290.4 501 288.7 502 289.5 503 287.6 504 287.5 505 289.3 506 284.4 507 288.4 508 286.5 509 288.4 510 286.3 511 291 512 289.8 513 287.1 514 289.8 515 284.6 516 285.5 517 289.6 518 291.8 519 288.4 520 290 521 288.9 522 291.8 523 287.5 524 285.4 525 287 526 288.7 527 289.6 528 287.2 529 290.7 530 285.5 531 288.9 532 286.5 533 287.6 534 287.3 535 290.6 536 291.6 537 284.1 538 287.7 539 289.1 540 286.7 541 288.2 542 288.3 543 290 544 286.9 545 290 546 288.1 547 288.6 548 287.2 549 288.2 550 288.6 551 293.4 552 290.4 553 289.3 554 288.7 555 287 556 290.6 557 286.2 558 287 559 290.1 560 287.3 561 286.6 562 293.7 563 286.4 564 287.7 565 285.8 566 288.7 567 290.4 568 293.5 569 291 570 289.5 571 288.4 572 290.7 573 288.3 574 289.6 575 285.7 576 289.5 577 285.7 578 287.6 579 284.7 580 285.6 581 290.4 582 288 583 285.6 584 289 585 283.4 586 286.2 587 284.2 588 286.6 589 286.6 590 284.7 591 284.2 592 283.6 593 285.1 594 284 595 285.3 596 283.4 597 283 598 281.7 599 281.4 600 282.6 601 281.6 602 282.4 603 281.9 604 280.7 605 280.7 606 281.7 607 281.4 608 281.2 609 279.6 610 280.2 611 279.3 612 281.5 613 279.3 614 279.3 615 278.9 616 278.2 617 279.2 618 278.1 619 278.4 620 278.5 621 277.9 622 277.3 623 277.9 624 277.2 625 275.9 626 274.9 627 275.4 628 276.2 629 276.9 630 275.1 631 275.5 632 274.3 633 275.5 634 276 635 273.7 636 274.1 637 275.5 638 273.2 639 272.6 640 273.1 641 273 642 272.3 643 272.2 644 272.8 645 270.9 646 272.2 647 270.5 648 271.4 649 271.3 650 270.1 651 269.3 652 268.4 653 267.8 654 269 655 266.7 656 267.6 657 266.8 658 267.5 659 265.7 660 266.7 661 265.1 662 266.3 663 263.9 664 263.3 665 262.4 666 263.6 667 261.8 668 262.4 669 260.8 670 259.5 671 261.2 672 260.6 673 258.9 674 259.5 675 256.8 676 258.5 677 257.2 678 257.3 679 256.5 680 256.5 681 255.9 682 255.4 683 255.4 684 255.3 685 255.6 686 254.8 687 253.9 688 254 689 253.6 690 255.1 691 252.4 692 253.3 693 252 694 253.1 695 252 696 252.2 697 251.4 698 252.3 699 252.3 700 251.6 701 251.5 702 250.8 703 247.8 704 249.1 705 249.8 706 249 707 247.8 708 247 709 247.7 710 249.3 711 246.9 712 248.1 713 246.2 714 247 715 246.2 716 244.6 717 244.3 718 243.9 719 244.4 720 242.1 721 242.9 722 241.9 723 243.3 724 240.5 725 241.4 726 240.9 727 241.5 728 240.9 729 238.6 730 240.9 731 239 732 239.5 733 237 734 239.9 735 238.6 736 238.5 737 237.9 738 239 739 235.6 740 237.6 741 236.9 742 237.4 743 238.7 744 236.7 745 237.3 746 236.6 747 238.6 748 238.5 749 240.2 750 241.4 751 238.9 752 240.2 753 242.3 754 244.2 755 244.8 756 247.4 757 248.3 758 248.7 759 251.2 760 251.7 761 252.8 762 254.9 763 256.1 764 258.2 765 257.7 766 258.9 767 262 768 262.5 769 263.8 770 264.9 771 265 772 266.5 773 268.9 774 269.9 775 270.7 776 272.7 777 274.3 778 274 779 275.7 780 276.9 781 276.9 782 277.7 783 277.9 784 280.5 785 280.8 786 281.3 787 281.5 788 283.6 789 282.1 790 284.5 791 285.5 792 285.1 793 284.8 794 285.3 795 287.4 796 287 797 288.3 798 287.3 799 287.1 800 291.1 801 287.7 802 289.6 803 290.1 804 289.2 805 289.7 806 290 807 291.5 808 289.9 809 290.7 810 292 811 289.4 812 289.3 813 290.8 814 290.7 815 292 816 292 817 291.3 818 292.2 819 291.3 820 294.4 821 293 822 291.8 823 294.8 824 292.3 825 293.1 826 291.3 827 291.1 828 294.3 829 292 830 291.5 831 291.7 832 293.5 833 292.1 834 291.7 835 289.9 836 291.8 837 293 838 292.2 839 292.1 840 295.1 841 293.5" fill="none" stroke="#262626" stroke-width="0.65" />
<path d="M489 287.9 490 290 491 287 492 290.2 493 292.1 494 288.5 495 291.5 496 288.1 497 286.3 498 288.3 499 288.5 500 290.6 501 289.1 502 287.5 503 288 504 288.8 505 289.8 506 286.7 507 287.5 508 288.6 509 286.9 510 290.9 511 288.8 512 286.5 513 287.1 514 290.9 515 287.7 516 286.7 517 290 518 290.8 519 285.4 520 289.1 521 292.1 522 292.9 523 290.7 524 289.9 525 286.3 526 290.1 527 287.6 528 288 529 290 530 287.2 531 287.8 532 292.3 533 290 534 285.3 535 287 536 286.2 537 289 538 286.3 539 288.2 540 288.6 541 289.4 542 288.7 543 288.9 544 288.3 545 286.7 546 290.2 547 288.5 548 286.9 549 285.8 550 288.6 551 290.3 552 288.8 553 285.9 554 287.4 555 286.3 556 287.6 557 289.8 558 288.5 559 288 560 287.1 561 287.3 562 288.4 563 284.5 564 287.2 565 284.3 566 289.9 567 285.9 568 289.4 569 284.8 570 290.5 571 288.6 572 287.4 573 286.3 574 286.1 575 285.8 576 287.4 577 286.6 578 286.8 579 284.6 580 284.6 581 282.6 582 282.1 583 284.1 584 282.9 585 283.2 586 282.5 587 281.9 588 281.6 589 279.5 590 280.4 591 280.3 592 279.6 593 279.4 594 277 595 278.8 596 278.2 597 277.8 598 277.2 599 277.1 600 277.1 601 275.8 602 275.8 603 276.1 604 274.5 605 275.8 606 274.5 607 274.6 608 274.2 609 274.8 610 273.5 611 275.2 612 273.6 613 273.2 614 274.8 615 273.4 616 271.9 617 273 618 273.3 619 273.5 620 272.9 621 271.8 622 273.5 623 271.2 624 269.6 625 272.2 626 271.4 627 270.8 628 271.6 629 270.2 630 269.2 631 269.3 632 268.1 633 268.8 634 267.6 635 267.2 636 266.5 637 267.4 638 267.6 639 266.5 640 265.3 641 265.6 642 266 643 265.6 644 265.1 645 264.3 646 266.2 647 264.7 648 264.6 649 264.1 650 262.8 651 264.3 652 262.5 653 262.4 654 261.6 655 260.7 656 261.3 657 260.1 658 260.4 659 260.1 660 260.7 661 257.8 662 259.6 663 259.3 664 257.1 665 257.1 666 257.3 667 255.1 668 256.6 669 253.6 670 254.7 671 253.8 672 252.5 673 252.1 674 252.1 675 251.3 676 250.8 677 250.2 678 250.6 679 249.7 680 249.1 681 248.7 682 248.2 683 248.5 684 247 685 246.6 686 245.4 687 244.4 688 244.3 689 244.2 690 242.8 691 244.1 692 242 693 242.3 694 241.2 695 241.3 696 241.3 697 241.2 698 238.7 699 239.9 700 238.1 701 239.2 702 236.5 703 236.6 704 236.6 705 237.1 706 235.7 707 236 708 234.9 709 234.6 710 233.3 711 232.4 712 231.7 713 230.6 714 229.2 715 228.4 716 226.5 717 226.1 718 226.2 719 225.9 720 224.9 721 226.9 722 224.1 723 224.8 724 224.8 725 223.1 726 223.9 727 223.2 728 222.3 729 223.6 730 223.8 731 225.1 732 223.9 733 222.1 734 223.9 735 221.7 736 222.7 737 221 738 223.6 739 223 740 224.4 741 223.8 742 222.9 743 223.8 744 224.3 745 223.4 746 223.8 747 225.1 748 224.5 749 226 750 229.2 751 230.5 752 231.5 753 234.8 754 234.2 755 235.9 756 236.1 757 236.8 758 237.5 759 237.7 760 240.1 761 241 762 243.6 763 244.1 764 245.9 765 248.4 766 248.9 767 251.4 768 253.9 769 255.4 770 257 771 258.9 772 260.5 773 263.9 774 263.3 775 264.2 776 267.1 777 268 778 268.8 779 271.4 780 270 781 272.8 782 273.3 783 275 784 276 785 277 786 278.2 787 278 788 279 789 281 790 281 791 281.5 792 281.7 793 283.2 794 283 795 285.8 796 287.3 797 286.3 798 285.7 799 287.6 800 285.7 801 287.8 802 287.4 803 288.6 804 287.5 805 288.4 806 289.5 807 288.5 808 290.3 809 288.8 810 289.2 811 291 812 289.4 813 289.9 814 289.4 815 289.4 816 291.7 817 291 818 289.7 819 290.4 820 291 821 292.1 822 292 823 291.9 824 290.3 825 293.8 826 291.2 827 292 828 291.6 829 293.4 830 292.4 831 292.9 832 292.2 833 292 834 292.6 835 293 836 293.4 837 293.4 838 293.5 839 290.4 840 292.8 841 293.1" fill="none" stroke="#262626" stroke-width="0.65" />
<path d="M489 290.6 490 287.5 491 286.1 492 285.6 493 286.9 494 285.5 495 288.4 496 290.6 497 286.5 498 287.1 499 287.3 500 286.4 501 290.7 502 286.5 503 290.2 504 287.8 505 285.8 506 287.7 507 287.6 508 285.7 509 286.8 510 289.9 511 288.4 512 282.9 513 289.9 514 289.4 515 289.2 516 294.2 517 284.8 518 288.8 519 290 520 284.5 521 289.9 522 287.8 523 286.1 524 291.6 525 289.8 526 286.3 527 288.4 528 285.7 529 293.3 530 285.8 531 288.8 532 287.8 533 291.5 534 289.1 535 289.2 536 290.1 537 288.3 538 290.3 539 292.1 540 292.6 541 284 542 288.9 543 290.3 544 289.3 545 291.3 546 288.5 547 290.6 548 286.3 549 286.1 550 285.1 551 289.4 552 289.1 553 290.8 554 288.3 555 288.7 556 286.5 557 289.9 558 287.9 559 287.5 560 290 561 284.7 562 287.1 563 286.5 564 286.9 565 286.6 566 286.9 567 283.5 568 285.4 569 284.1 570 285 571 283 572 285.2 573 284.7 574 285.8 575 281.9 576 282.3 577 282.9 578 282.7 579 281 580 281.2 581 281.4 582 282 583 281.5 584 280.8 585 281.8 586 281.2 587 280.3 588 279.7 589 279.8 590 278.9 591 279.8 592 277 593 277.5 594 277.1 595 277 596 275.9 597 274.6 598 275.4 599 276.3 600 274.3 601 274.7 602 274.4 603 273.6 604 272.6 605 272.5 606 273.3 607 272.1 608 271.5 609 270.7 610 270.6 611 271.1 612 270.6 613 269.4 614 269 615 269.5 616 269.1 617 268 618 266.5 619 264.8 620 265.2 621 265.6 622 265.6 623 264.7 624 263.9 625 264.8 626 263.4 627 262.5 628 261.8 629 262.8 630 261.4 631 261.6 632 261.1 633 260.5 634 259.9 635 259.8 636 258 637 258.9 638 257.7 639 257.1 640 257 641 256.3 642 256.2 643 255.1 644 256.8 645 253.4 646 254.2 647 253.1 648 252.1 649 252.9 650 253.3 651 251.3 652 252.3 653 249.6 654 250.4 655 249 656 248.3 657 248.3 658 247.8 659 248.3 660 248.9 661 247.8 662 248 663 246.1 664 245.3 665 246.5 666 246.1 667 243.8 668 243.9 669 244.1 670 243.1 671 241.7 672 242.4 673 240.2 674 242.9 675 240.8 676 239 677 240.2 678 239.8 679 239.1 680 237.7 681 235.8 682 235.5 683 236.9 684 234.4 685 233.2 686 232.6 687 230.8 688 230.9 689 230.5 690 228.9 691 229.9 692 226.8 693 227.6 694 226.1 695 226.1 696 224.2 697 221.5 698 221.2 699 221.5 700 219.8 701 220.6 702 217.5 703 218.6 704 216.8 705 216.6 706 216.1 707 212.9 708 213.1 709 213.1 710 212 711 210 712 209.9 713 209.4 714 208.4 715 208.5 716 208.6 717 207.1 718 205 719 204.7 720 205.5 721 205.3 722 203.4 723 203 724 201.1 725 203.4 726 201.9 727 201.1 728 201.7 729 201.1 730 201.5 731 199.4 732 200.1 733 199 734 199.8 735 199.4 736 198.9 737 199.5 738 201.1 739 200.4 740 201.4 741 200.1 742 202.9 743 201.5 744 204 745 205.6 746 208.4 747 208.1 748 208.5 749 210.2 750 212.2 751 213.9 752 215.1 753 218.1 754 220.1 755 221.3 756 224.5 757 227.2 758 228.1 759 230.8 760 234 761 235.8 762 239 763 241.2 764 242.8 765 246.4 766 247.9 767 250.7 768 254.4 769 253.5 770 254.5 771 258.1 772 258.3 773 259.6 774 262.2 775 262.3 776 261.9 777 265.9 778 265.8 779 266.4 780 268.5 781 269.5 782 269.9 783 272.4 784 271.9 785 274.2 786 274.8 787 276.6 788 277.6 789 277.4 790 278.5 791 281.2 792 281.4 793 282.2 794 283.2 795 283.4 796 282.7 797 284.2 798 285 799 285.7 800 284.2 801 287.5 802 286 803 287.5 804 285.2 805 287.7 806 286.9 807 289 808 287.4 809 289.6 810 289.8 811 287.8 812 288.2 813 288.6 814 289.5 815 290 816 289 817 289.7 818 290.2 819 291.1 820 289.8 821 291.1 822 291.5 823 292.2 824 290.5 825 292.8 826 293.1 827 292.1 828 291.8 829 292.5 830 291.6 831 292.1 832 293.2 833 292 834 292.1 835 292.3 836 292.6 837 293.6 838 293.6 839 291.2 840 292.6 841 292.5" fill="none" stroke="#262626" stroke-width="0.65" />
<path d="M489 290.1 490 290.6 491 288 492 287.9 493 285.1 494 289.7 495 289.4 496 288.6 497 286.3 498 288.4 499 287.8 500 287.2 501 288.2 502 285.7 503 287.1 504 283.5 505 288.9 506 291.6 507 285.2 508 289.3 509 288.3 510 287.5 511 289.8 512 285.9 513 288.9 514 287.4 515 287.9 516 285.2 517 287.9 518 289 519 288.2 520 284.9 521 290 522 288.7 523 288.6 524 289.3 525 287.1 526 289.8 527 288.6 528 287.4 529 287.8 530 289.4 531 291.8 532 286.8 533 282.9 534 287.9 535 285.8 536 286.5 537 285.9 538 287.2 539 286.2 540 284.5 541 284.9 542 283.9 543 284.3 544 284.1 545 285.2 546 281.9 547 285 548 281.8 549 283.4 550 285.5 551 282 552 283.5 553 281.9 554 280.6 555 282.5 556 278.8 557 280.9 558 279.5 559 280.4 560 280.2 561 279.3 562 278.3 563 279.2 564 276 565 278.3 566 278.1 567 275.6 568 276.1 569 276 570 276.6 571 274.7 572 273.7 573 273 574 271.8 575 270.2 576 273.5 577 272.7 578 271.8 579 269.8 580 271 581 270.9 582 268.8 583 268.8 584 266.3 585 267.7 586 268.9 587 267.8 588 267.2 589 266.3 590 264.5 591 263.5 592 263.5 593 263.8 594 263.2 595 264 596 261.1 597 263.1 598 260.1 599 261.3 600 260.7 601 261.6 602 259.6 603 259.3 604 259.4 605 257.8 606 259.4 607 257 608 256.8 609 257.4 610 255.7 611 254.5 612 255.2 613 254 614 252.2 615 253.6 616 250.4 617 252 618 250.8 619 248.8 620 247.6 621 248.1 622 244.2 623 244.2 624 246.8 625 243.9 626 244.8 627 244.5 628 242 629 243.8 630 240.3 631 241.4 632 240.7 633 237.9 634 241.3 635 237.3 636 237.1 637 238.7 638 235.5 639 236.4 640 234.7 641 233.8 642 232.4 643 232.1 644 231.8 645 231.4 646 229.1 647 230.4 648 228.3 649 228.4 650 226 651 224.3 652 228 653 223.4 654 225 655 223.2 656 221.3 657 219.8 658 218.9 659 219.8 660 216.6 661 217.1 662 215 663 214.1 664 213 665 211.3 666 212.7 667 212.1 668 210.8 669 208.1 670 207.5 671 206.3 672 207.2 673 204.7 674 203.5 675 203.3 676 202.2 677 200.7 678 200.3 679 197.1 680 198.8 681 195 682 193.2 683 194.3 684 190.2 685 189.9 686 187.3 687 188.7 688 186.2 689 186 690 183 691 180.3 692 183 693 181.5 694 178.6 695 178.1 696 176.3 697 173.9 698 174.3 699 172.6 700 173.4 701 172.5 702 172.8 703 173.4 704 171.6 705 169.6 706 168.6 707 170.5 708 165 709 165.3 710 164.9 711 168.6 712 163.8 713 165.9 714 167.4 715 165.5 716 163 717 165.3 718 164.9 719 165.5 720 163.9 721 164.2 722 165.9 723 164.7 724 163.8 725 165.5 726 166.3 727 167.2 728 168.1 729 165.2 730 167.9 731 166.6 732 169 733 173.1 734 171 735 172 736 171.9 737 173.7 738 176.2 739 177.9 740 178.7 741 182.4 742 179 743 183.5 744 181.9 745 186.8 746 187.1 747 187.5 748 190.1 749 191.1 750 194.4 751 193.9 752 199.1 753 201.2 754 202.4 755 205.3 756 209 757 212.1 758 213.2 759 216 760 215.9 761 219.9 762 223.9 763 226 764 227.8 765 231.9 766 236.4 767 238.7 768 237.5 769 242.7 770 244 771 248.5 772 249.3 773 252.1 774 254.5 775 255.4 776 256.3 777 257.9 778 262.6 779 262.8 780 264.9 781 267.8 782 268.7 783 271.3 784 270.2 785 274.6 786 274.6 787 276.2 788 279.4 789 278.4 790 278.5 791 280.1 792 280.8 793 282 794 281.8 795 283.7 796 285.3 797 283.1 798 285.8 799 285.3 800 287 801 286.3 802 289 803 288.3 804 287.8 805 288.3 806 289.1 807 290.4 808 290.2 809 291.5 810 289.6 811 290 812 290.9 813 293.3 814 290.7 815 291.9 816 292.3 817 289.2 818 290.7 819 291.6 820 291.3 821 292.3 822 292.3 823 290.4 824 290.7 825 291 826 288.2 827 289.7 828 292 829 291.6 830 290.4 831 291.5 832 291.9 833 291.7 834 293.7 835 292.3 836 289.8 837 293.3 838 293.8 839 294.3 840 293.2 841 292.7" fill="none" stroke="#262626" stroke-width="0.65" stroke-dasharray="6 2 2 2"/>
<path d="M505 264.9 506 262.1 507 259.6 508 259.5 509 257.5 510 258.5 511 256.1 512 257.6 513 259.9 514 256.4 515 256.5 516 256.7 517 257.4 518 255.1 519 255.4 520 255.6 521 255.2 522 253.8 523 256.3 524 255.8 525 256.3 526 254.3 527 252.2 528 251.2 529 251 530 249.1 531 249.8 532 251 533 250.4 534 250.3 535 250.2 536 253 537 251.8 538 252.7 539 255.9 540 251.1 541 252.9 542 251.9 543 249.5 544 249.5 545 248 546 246.9 547 248.3 548 245.6 549 243.1 550 246.8 551 245.1 552 243.3 553 243.5 554 244.3 555 242.8 556 243.2 557 244 558 242.2 559 242.2 560 241.4 561 240.4 562 238.4 563 239.9 564 236.6 565 236.6 566 233.5 567 234.3 568 233.8 569 231.5 570 230.8 571 232.9 572 231 573 228 574 229.1 575 227.1 576 227.2 577 224.4 578 224.7 579 224 580 222.3 581 221 582 223.4 583 219.9 584 221.1 585 218.6 586 217.5 587 218.2 588 214.9 589 215.9 590 216.5 591 213.1 592 213.7 593 214 594 214.1 595 214.6 596 213.7 597 211.9 598 208.6 599 211.1 600 210.3 601 209.4 602 209.5 603 207.3 604 209.4 605 207.9 606 205.5 607 206.6 608 207.1 609 205.6 610 204.7 611 205.5 612 203.6 613 202.4 614 202 615 200.9 616 199.6 617 199.1 618 199.9 619 199.2 620 197.7 621 195.1 622 196.3 623 196.8 624 196.6 625 193.6 626 195.9 627 195.7 628 195.6 629 196.8 630 190.1 631 193.3 632 193 633 196.4 634 194 635 195.6 636 193.4 637 193.6 638 192.7 639 194.4 640 192 641 192.7 642 193.2 643 191.2 644 188.9 645 188.4 646 189 647 192.1 648 188.3 649 189.6 650 190.2 651 187.6 652 188.5 653 186.6 654 187.7 655 187 656 183.4 657 184.4 658 182.7 659 183.6 660 183.6 661 181.6 662 179.8 663 179.5 664 182.2 665 181.3 666 180.7 667 179.5 668 178.6 669 179.9 670 179.8 671 181.3 672 178.8 673 177.1 674 179.6 675 172.5 676 174.3 677 176.1 678 174 679 173.4 680 174.1 681 175.8 682 172.7 683 175.7 684 171.5 685 171 686 170.5 687 171.1 688 169.4 689 172.1 690 173 691 171.4 692 170.3 693 171.4 694 172.2 695 170.4 696 172.3 697 175.7 698 172.6 699 172.3 700 171.9 701 175.3 702 173 703 174.1 704 177.5 705 174.5 706 176.2 707 176.5 708 175.3 709 174.9 710 179.6 711 178.8 712 176.8 713 180.6 714 176.5 715 177 716 175.8 717 177.9 718 178.8 719 178.3 720 179.5 721 179.8 722 180.8 723 182.6 724 186.5 725 186.5 726 188.2 727 191.4 728 192 729 192.3 730 193.7 731 192.7 732 193.7 733 197.8 734 198.8 735 199.1 736 201.6 737 201.2 738 202.8 739 203.9 740 203.2 741 204.5 742 207.5 743 207.2 744 209.2 745 213.1 746 212.1 747 212.4 748 214.8 749 215.1 750 215.1 751 214.9 752 218.8 753 219.1 754 219.8 755 220.8 756 224.7 757 226.1 758 228.3 759 232.3 760 233.3 761 237 762 239.6 763 240 764 242.6 765 244.8 766 246.5 767 249.4 768 250.2 769 252 770 253.2 771 256.5 772 258.6 773 260.7 774 261.1 775 262.5 776 262.8 777 266.2 778 268.3 779 269.5 780 270.5 781 273.5 782 272.8 783 273 784 274.8 785 276.8 786 277.4 787 280.8 788 279.2 789 280.8 790 280.3 791 280.7 792 283.4 793 284.3 794 282.4 795 285.5 796 286.3 797 287.9 798 286.8 799 286.6 800 287.2 801 288.5 802 286.7 803 288.6 804 288.3 805 288 806 287.6 807 288.9 808 290.3 809 290.1 810 290.8 811 287.9 812 290.5 813 289.5 814 291.3 815 290.6 816 292.6 817 290 818 291.1 819 288 820 293.4 821 290.2 822 290.4 823 291.9 824 293.6 825 291.1 826 293 827 290.8 828 293.5 829 292.5 830 293.3 831 293 832 292.2 833 292 834 293.3 835 293.4 836 293.9 837 293.3 838 292.5 839 292.8 840 292.3 841 292.4" fill="none" stroke="#262626" stroke-width="0.65" />
<path d="M489 243.7 490 244.1 491 243.6 492 243 493 244.2 494 242 495 244.7 496 244.6 497 243 498 243.6 499 245.4 500 245.4 501 244.1 502 244.9 503 241.2 504 245.5 505 246.4 506 243.5 507 241.6 508 244.7 509 246 510 244.1 511 246.2 512 245.2 513 244.4 514 245 515 245.4 516 244 517 241.9 518 241.2 519 240.5 520 240.7 521 243.9 522 243 523 240.1 524 242.5 525 239.3 526 240.8 527 240.1 528 238.7 529 238.9 530 238 531 238.5 532 239.7 533 237 534 238.8 535 236.3 536 239.8 537 235.9 538 235.3 539 236.3 540 236 541 235.7 542 236 543 233.3 544 237 545 233.6 546 233.6 547 232.8 548 232.9 549 234.4 550 232.3 551 232.6 552 235.1 553 232.6 554 231.3 555 228.2 556 230.6 557 230.2 558 228.3 559 225.6 560 226.9 561 225.4 562 227.6 563 226 564 225.2 565 223.1 566 222.6 567 224.1 568 223.6 569 223.9 570 221.8 571 220.9 572 221.3 573 218.7 574 219.3 575 218.3 576 220 577 216.5 578 217 579 217.4 580 217.7 581 216.4 582 216.7 583 215.5 584 213.8 585 215.2 586 216.6 587 214.2 588 213.9 589 213.9 590 213.8 591 212.9 592 210.3 593 213.5 594 214.2 595 210.1 596 210.1 597 211.1 598 209.7 599 206.8 600 212.4 601 207.7 602 210.7 603 207.8 604 207.2 605 205.6 606 207 607 207 608 208.3 609 205.7 610 204.7 611 204.2 612 202.1 613 203.4 614 203.1 615 200.4 616 199.9 617 198.5 618 196.5 619 198.7 620 193.7 621 195.2 622 194.2 623 190.1 624 191.8 625 187 626 189.8 627 184.9 628 188.5 629 186 630 182 631 182.2 632 182.2 633 181.8 634 181.2 635 180.9 636 181.1 637 178.5 638 179.1 639 178.8 640 182.9 641 177.9 642 175.3 643 176.5 644 177.7 645 176.1 646 173.2 647 174.5 648 169.4 649 171.6 650 171.6 651 168.2 652 170.7 653 166.9 654 166.2 655 163.3 656 164.2 657 163.7 658 163.2 659 160.4 660 161.1 661 160.3 662 160.8 663 158.6 664 157.8 665 162.7 666 160.1 667 154.7 668 158 669 153.8 670 154.8 671 154 672 153.1 673 152.4 674 151.3 675 152.1 676 152.6 677 152.4 678 143.5 679 150.5 680 145.4 681 141.7 682 143.2 683 146.6 684 144 685 142.8 686 138.2 687 142.3 688 142 689 141.4 690 140 691 137 692 135.8 693 135.7 694 137 695 137 696 136.4 697 135.6 698 133.2 699 135.8 700 134.9 701 137.5 702 138.5 703 136.6 704 137.1 705 136.3 706 135.6 707 133.9 708 134.6 709 136.5 710 134.6 711 139.2 712 137.5 713 138.4 714 138 715 137.5 716 138.6 717 140.9 718 141.3 719 140.2 720 140 721 141.2 722 139 723 140.9 724 139.3 725 140.7 726 144.1 727 144.3 728 144.2 729 147.1 730 150.3 731 149.3 732 152.9 733 157 734 156 735 159 736 158.4 737 162.3 738 161.1 739 162.2 740 165.5 741 164.1 742 166.6 743 169.3 744 173.4 745 175.5 746 181.6 747 178.4 748 183.9 749 184 750 188.1 751 192.9 752 193.4 753 194.3 754 201.8 755 205.6 756 206.1 757 207.6 758 209.9 759 213.4 760 214.1 761 214 762 217.5 763 220.8 764 224.9 765 230.7 766 235.9 767 240.4 768 239.5 769 244.6 770 246 771 248.4 772 248.7 773 254 774 252.5 775 256.6 776 261.7 777 260.6 778 263.8 779 263.8 780 265.3 781 268.6 782 270.2 783 270.4 784 271.3 785 273.1 786 274.8 787 275.1 788 278.4 789 277.5 790 278.7 791 279.2 792 279.6 793 282.3 794 281.9 795 283.7 796 283.9 797 287.5 798 286 799 288 800 284.2 801 287 802 288.2 803 286.7 804 288.7 805 288 806 290.7 807 289 808 289.3 809 292.1 810 289.6 811 288.7 812 290.6 813 289.4 814 288.9 815 290.9 816 291.4 817 289.2 818 292.1 819 289.3 820 291 821 292.6 822 292 823 290.1 824 291.1 825 290.6 826 289.7 827 292.7 828 294.6 829 291 830 290.2 831 291.6 832 292.7 833 293.1 834 291.7 835 293.8 836 291.7 837 292.9 838 295.4 839 293 840 292.8 841 293.3" fill="none" stroke="#262626" stroke-width="0.65" />
<path d="M489 231.3 490 233.4 491 233.6 492 234.3 493 234.6 494 237.2 495 234.3 496 236 497 238 498 235.4 499 233.2 500 234.4 501 235.7 502 232.7 503 235.1 504 231.2 505 231.8 506 234.7 507 231.5 508 235.1 509 232.4 510 233.4 511 232.6 512 231.2 513 233.6 514 232.3 515 233.5 516 230 517 228.4 518 231.5 519 231.3 520 230.9 521 231.8 522 231.2 523 228.2 524 228.3 525 228.9 526 229.4 527 228.8 528 228.9 529 224.7 530 228.6 531 226.6 532 226.6 533 227.8 534 226.1 535 224.1 536 224.1 537 226.3 538 224.6 539 225.5 540 224.4 541 227.1 542 228.4 543 224.1 544 224.4 545 224 546 223.3 547 227.7 548 227 549 222.5 550 223.3 551 225.9 552 224.7 553 225.8 554 222.9 555 225.4 556 220.3 557 222.3 558 220.3 559 220.3 560 220.6 561 218.3 562 217.6 563 216.5 564 219 565 213.3 566 214.3 567 215.1 568 211.3 569 210.2 570 212.2 571 208.4 572 207.2 573 210.4 574 209.4 575 210.7 576 207.8 577 209.9 578 207.5 579 206.2 580 209 581 208.6 582 204.7 583 204.9 584 205 585 205.1 586 203.5 587 202.4 588 204.9 589 202.5 590 199.3 591 199.4 592 199.6 593 201.7 594 201.4 595 197.8 596 200.8 597 199.3 598 199.3 599 198.2 600 195.2 601 194.2 602 197.2 603 192.9 604 194.1 605 193.8 606 191.1 607 192.3 608 191.4 609 192.4 610 189 611 187.9 612 187.5 613 184.9 614 186.7 615 184.3 616 185 617 185.3 618 184 619 181 620 184 621 182 622 179.5 623 180 624 182 625 178.3 626 177.7 627 178.6 628 178.4 629 176.3 630 173.9 631 175.1 632 173.6 633 177.7 634 175.8 635 174.2 636 170.6 637 172.8 638 175.5 639 173.8 640 172.1 641 166.6 642 171.3 643 170 644 172.3 645 169.6 646 170.1 647 170.8 648 167.1 649 165.5 650 165.7 651 167.3 652 169.3 653 166.8 654 163.7 655 168.1 656 163.2 657 164.3 658 162.6 659 164.4 660 160.9 661 161.9 662 163 663 160.8 664 160.8 665 160.7 666 157.1 667 159.9 668 157.1 669 157.7 670 157.2 671 157.1 672 158.7 673 155.9 674 157.9 675 156 676 154.9 677 154.4 678 155.1 679 154.9 680 152.5 681 153.9 682 152.3 683 152.2 684 151.3 685 150.6 686 148.6 687 152.9 688 150.8 689 147.4 690 147.1 691 146.7 692 149.6 693 144.5 694 148 695 144.9 696 144.6 697 142.8 698 146 699 147.3 700 145.7 701 143.3 702 140.8 703 143.7 704 145.2 705 141.7 706 144.7 707 142.6 708 141.7 709 143.1 710 150.8 711 149.4 712 147.8 713 149.8 714 147.2 715 148.7 716 148.8 717 152.8 718 154.3 719 150.9 720 154.6 721 150.6 722 154.7 723 153.3 724 152.7 725 151.1 726 146.7 727 152.3 728 152.7 729 155.5 730 157.6 731 157.6 732 156.9 733 158.9 734 158 735 157.1 736 160 737 158.4 738 158.5 739 162.6 740 161.5 741 163.6 742 162.8 743 167.5 744 172.8 745 172.1 746 174.8 747 175.5 748 181.2 749 180.2 750 184.3 751 189.5 752 195.9 753 197.1 754 198 755 199 756 205.2 757 204.3 758 207.1 759 212 760 214.3 761 214.3 762 217.8 763 222 764 224.3 765 229 766 233.6 767 238.3 768 242.1 769 243.9 770 245.8 771 248.3 772 254.3 773 253.5 774 255.6 775 257 776 262.1 777 262.7 778 263 779 263.3 780 266.4 781 268.5 782 270.3 783 270.4 784 272.5 785 274.8 786 276.9 787 277.3 788 277.9 789 280.8 790 279.2 791 280.9 792 279.3 793 280.3 794 281.7 795 282 796 281.7 797 283.2 798 284.3 799 283.7 800 286.7 801 286 802 287.6 803 287.1 804 287.1 805 287.9 806 288.3 807 288 808 289.4 809 288.8 810 291.4 811 291.2 812 289 813 291.1 814 290.4 815 290.1 816 291.9 817 289 818 290.4 819 290.9 820 291.9 821 290.2 822 291.2 823 291.6 824 290.8 825 292.5 826 292.8 827 291.2 828 293.2 829 291.3 830 292.3 831 292.7 832 292.2 833 293.5 834 291.2 835 292.4 836 291.6 837 294.9 838 294.5 839 292.3 840 293.1 841 293.6" fill="none" stroke="#262626" stroke-width="0.65" stroke-dasharray="3 1.5"/>
<path d="M508.9 233L509.5 216.9L510.1 233M545.6 225L546.2 206.1L546.8 225M585.2 213L585.7 201.6L586.2 213M526.9 240L527.4 225.8L527.9 240M531.9 236L532.4 221.9L532.9 236M575.8 271L576.2 264L576.6 271M584.6 266.5L585 259.1L585.4 266.5M621.3 192L622.5 146L623.7 192M620.1 185L621.1 150L622.1 185M655 165L655.6 146.9L656.2 165M666.2 156L667.3 113.3L668.4 156M669.1 157L670.4 105.2L671.7 157M672.4 150L673.1 128.5L673.8 150M684.6 142L685.1 128.5L685.6 142M703.2 136L704.6 81L706 136M712.9 138L714.2 58.6L715.6 138M710.1 139L710.6 124.6L711.1 139M717.6 141L718.3 121L718.9 141M732.8 198L734 152L735.2 198M739.2 175L739.8 157.7L740.4 175M741.1 176.8L741.7 158.9L742.3 176.8M750.3 201.8L750.8 188.7L751.3 201.8M751.9 204L752.4 190L752.9 204M763.8 226L764.4 210L765 226M759.4 262L759.8 254.4L760.2 262M763.4 230L764.1 205L764.9 230M788.4 282L789 265.3L789.6 282M684.8 140L685.3 128.9L685.8 140" stroke="#5a5a5a" stroke-width="0.6" fill="none" stroke-linejoin="miter"/>
<path d="M713.6 10.5V145" stroke="#6a6a6a" stroke-width="0.9" stroke-dasharray="4 2" fill="none"/>
<line x1="77.8" y1="55.5" x2="103.4" y2="55.5" stroke="#000" stroke-width="1" />
<line x1="78" y1="67" x2="103.4" y2="67" stroke="#000" stroke-width="1.2" stroke-dasharray="4 1.2"/>
<line x1="499" y1="32.4" x2="520.5" y2="32.4" stroke="#555" stroke-width="0.85" />
<line x1="499" y1="45.6" x2="520.5" y2="45.6" stroke="#555" stroke-width="0.85" />
<line x1="499" y1="58.8" x2="520.5" y2="58.8" stroke="#555" stroke-width="0.85" />
<line x1="499" y1="72" x2="520.5" y2="72" stroke="#555" stroke-width="0.85" />
<line x1="499" y1="85.1" x2="520.5" y2="85.1" stroke="#555" stroke-width="0.85" />
<line x1="499" y1="98.8" x2="520.5" y2="98.8" stroke="#555" stroke-width="0.85" />
<line x1="499" y1="111.8" x2="520.5" y2="111.8" stroke="#555" stroke-width="0.85" />
<line x1="499" y1="124.9" x2="520.5" y2="124.9" stroke="#555" stroke-width="0.85" stroke-dasharray="6 2.5 2 2.5"/>
<line x1="499" y1="137.8" x2="520.5" y2="137.8" stroke="#555" stroke-width="0.85" />
<line x1="499" y1="150.6" x2="520.5" y2="150.6" stroke="#555" stroke-width="0.85" stroke-dasharray="4 2.5"/>
<line x1="499" y1="163.5" x2="520.5" y2="163.5" stroke="#555" stroke-width="0.85" />
<g clip-path="url(#cl)"><text transform="translate(414.8 302.7) scale(1 1.07)" font-family="Liberation Serif" font-size="11.5" text-anchor="middle" fill="#000" stroke="#000" stroke-width="0.1">3.53</text></g>
<text transform="translate(69.6 302.7) scale(1 1.07)" font-family="Liberation Serif" font-size="11.5" text-anchor="middle" fill="#000" stroke="#000" stroke-width="0.1">3.13</text>
<text transform="translate(112.7 302.7) scale(1 1.07)" font-family="Liberation Serif" font-size="11.5" text-anchor="middle" fill="#000" stroke="#000" stroke-width="0.1">3.18</text>
<text transform="translate(155.9 302.7) scale(1 1.07)" font-family="Liberation Serif" font-size="11.5" text-anchor="middle" fill="#000" stroke="#000" stroke-width="0.1">3.23</text>
<text transform="translate(199 302.7) scale(1 1.07)" font-family="Liberation Serif" font-size="11.5" text-anchor="middle" fill="#000" stroke="#000" stroke-width="0.1">3.28</text>
<text transform="translate(242.2 302.7) scale(1 1.07)" font-family="Liberation Serif" font-size="11.5" text-anchor="middle" fill="#000" stroke="#000" stroke-width="0.1">3.33</text>
<text transform="translate(285.4 302.7) scale(1 1.07)" font-family="Liberation Serif" font-size="11.5" text-anchor="middle" fill="#000" stroke="#000" stroke-width="0.1">3.38</text>
<text transform="translate(328.5 302.7) scale(1 1.07)" font-family="Liberation Serif" font-size="11.5" text-anchor="middle" fill="#000" stroke="#000" stroke-width="0.1">3.43</text>
<text transform="translate(371.7 302.7) scale(1 1.07)" font-family="Liberation Serif" font-size="11.5" text-anchor="middle" fill="#000" stroke="#000" stroke-width="0.1">3.48</text>
<text transform="translate(63 293.2) scale(1 1.07)" font-family="Liberation Serif" font-size="11.5" text-anchor="end" fill="#000" stroke="#000" stroke-width="0.1" >0.0</text>
<text transform="translate(63 215.2) scale(1 1.07)" font-family="Liberation Serif" font-size="11.5" text-anchor="end" fill="#000" stroke="#000" stroke-width="0.1" >10000.0</text>
<text transform="translate(63 137.3) scale(1 1.07)" font-family="Liberation Serif" font-size="11.5" text-anchor="end" fill="#000" stroke="#000" stroke-width="0.1" >20000.0</text>
<text transform="translate(63 59.1) scale(1 1.07)" font-family="Liberation Serif" font-size="11.5" text-anchor="end" fill="#000" stroke="#000" stroke-width="0.1" >30000.0</text>
<text transform="translate(241.8 318.8) scale(1 1.07)" font-family="Liberation Serif" font-size="11.6" text-anchor="middle" fill="#000" stroke="#000" stroke-width="0.1" >Photon&#8722;Energy [eV]</text>
<text transform="translate(522.5 316.3) scale(1 1.07)" font-family="Liberation Serif" font-size="11.8" text-anchor="middle" fill="#000" stroke="#000" stroke-width="0.1" >3.35</text>
<text transform="translate(606.6 316.3) scale(1 1.07)" font-family="Liberation Serif" font-size="11.8" text-anchor="middle" fill="#000" stroke="#000" stroke-width="0.1" >3.40</text>
<text transform="translate(690.8 316.3) scale(1 1.07)" font-family="Liberation Serif" font-size="11.8" text-anchor="middle" fill="#000" stroke="#000" stroke-width="0.1" >3.45</text>
<text transform="translate(774.9 316.3) scale(1 1.07)" font-family="Liberation Serif" font-size="11.8" text-anchor="middle" fill="#000" stroke="#000" stroke-width="0.1" >3.50</text>
<text transform="translate(481.8 305.9) scale(1 1.13)" font-family="Liberation Serif" font-size="11.8" text-anchor="end" fill="#000" stroke="#000" stroke-width="0.1" >0.0</text>
<text transform="translate(481.8 263.5) scale(1 1.13)" font-family="Liberation Serif" font-size="11.8" text-anchor="end" fill="#000" stroke="#000" stroke-width="0.1" >5000.0</text>
<text transform="translate(481.8 221.2) scale(1 1.13)" font-family="Liberation Serif" font-size="11.8" text-anchor="end" fill="#000" stroke="#000" stroke-width="0.1" >10000.0</text>
<text transform="translate(481.8 178.8) scale(1 1.13)" font-family="Liberation Serif" font-size="11.8" text-anchor="end" fill="#000" stroke="#000" stroke-width="0.1" >15000.0</text>
<text transform="translate(481.8 136.4) scale(1 1.13)" font-family="Liberation Serif" font-size="11.8" text-anchor="end" fill="#000" stroke="#000" stroke-width="0.1" >20000.0</text>
<text transform="translate(481.8 94) scale(1 1.13)" font-family="Liberation Serif" font-size="11.8" text-anchor="end" fill="#000" stroke="#000" stroke-width="0.1" >25000.0</text>
<text transform="translate(481.8 51.7) scale(1 1.13)" font-family="Liberation Serif" font-size="11.8" text-anchor="end" fill="#000" stroke="#000" stroke-width="0.1" >30000.0</text>
<text transform="translate(481.8 9.3) scale(1 1.13)" font-family="Liberation Serif" font-size="11.8" text-anchor="end" fill="#000" stroke="#000" stroke-width="0.1" >35000.0</text>
<text transform="translate(665.5 333.2) scale(1 1.07)" font-family="Liberation Serif" font-size="11.8" text-anchor="middle" fill="#000" stroke="#000" stroke-width="0.1" >Photon&#8722;Energy [eV]</text>
<text x="0" y="0" transform="translate(12.9 158) rotate(-90)" font-family="Liberation Sans" font-size="15.6" text-anchor="middle" fill="#000">CL-Intensity (Cts/s)</text>
<text x="77.6" y="35" font-family="Liberation Sans" font-size="15.5" fill="#000">e-beam current</text>
<text x="107.5" y="52.4" font-family="Liberation Sans" font-size="15.5" fill="#000">I<tspan font-size="10.5" dy="3.8">e</tspan><tspan dy="-3.8">=0.1 mA</tspan></text>
<text x="107.5" y="70.4" font-family="Liberation Sans" font-size="15.5" fill="#000">I<tspan font-size="10.5" dy="3.8">e</tspan><tspan dy="-3.8">=0.2 mA</tspan></text>
<text transform="translate(525.8 35.7) scale(1 1.07)" font-family="Liberation Serif" font-size="10.0" text-anchor="start" fill="#000" stroke="#000" stroke-width="0.1" >0.01 mA</text>
<text transform="translate(525.8 48.9) scale(1 1.07)" font-family="Liberation Serif" font-size="10.0" text-anchor="start" fill="#000" stroke="#000" stroke-width="0.1" >0.02 mA</text>
<text transform="translate(525.8 62.1) scale(1 1.07)" font-family="Liberation Serif" font-size="10.0" text-anchor="start" fill="#000" stroke="#000" stroke-width="0.1" >0.03 mA</text>
<text transform="translate(525.8 75.3) scale(1 1.07)" font-family="Liberation Serif" font-size="10.0" text-anchor="start" fill="#000" stroke="#000" stroke-width="0.1" >0.04 mA</text>
<text transform="translate(525.8 88.4) scale(1 1.07)" font-family="Liberation Serif" font-size="10.0" text-anchor="start" fill="#000" stroke="#000" stroke-width="0.1" >0.05 mA</text>
<text transform="translate(525.8 102.1) scale(1 1.07)" font-family="Liberation Serif" font-size="10.0" text-anchor="start" fill="#000" stroke="#000" stroke-width="0.1" >0.065 mA</text>
<text transform="translate(525.8 115.1) scale(1 1.07)" font-family="Liberation Serif" font-size="10.0" text-anchor="start" fill="#000" stroke="#000" stroke-width="0.1" >0.08 mA</text>
<text transform="translate(525.8 128.2) scale(1 1.07)" font-family="Liberation Serif" font-size="10.0" text-anchor="start" fill="#000" stroke="#000" stroke-width="0.1" >0.1 mA</text>
<text transform="translate(525.8 141.1) scale(1 1.07)" font-family="Liberation Serif" font-size="10.0" text-anchor="start" fill="#000" stroke="#000" stroke-width="0.1" >0.2 mA</text>
<text transform="translate(525.8 153.9) scale(1 1.07)" font-family="Liberation Serif" font-size="10.0" text-anchor="start" fill="#000" stroke="#000" stroke-width="0.1" >0.3mA</text>
<text transform="translate(525.8 166.8) scale(1 1.07)" font-family="Liberation Serif" font-size="10.0" text-anchor="start" fill="#000" stroke="#000" stroke-width="0.1" >0.25 mA</text>
</svg>
</body></html>
